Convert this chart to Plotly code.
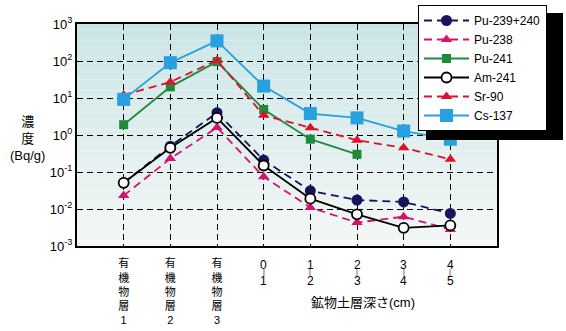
import plotly.graph_objects as go

organic_labels = ["有<br>機<br>物<br>層<br>1", "有<br>機<br>物<br>層<br>2", "有<br>機<br>物<br>層<br>3"]
depth_top = [0, 1, 2, 3, 4]
depth_bottom = [1, 2, 3, 4, 5]
x_pos = [0, 1, 2, 3, 4, 5, 6, 7]
categories = organic_labels + [""] * len(depth_top)

pu239 = [0.051, 0.50, 4.0, 0.21, 0.031, 0.0175, 0.0155, 0.0076]
pu238 = [0.023, 0.23, 1.6, 0.074, 0.011, 0.0043, 0.0062, 0.0028]
pu241 = [1.9, 20, 96, 4.9, 0.77, 0.30]
am241 = [0.051, 0.45, 2.9, 0.15, 0.019, 0.0072, 0.0031, 0.0036]
sr90 = [12, 27, 105, 3.4, 1.58, 0.72, 0.45, 0.22]
cs137 = [9.2, 90, 350, 21, 3.8, 2.9, 1.28, 0.77]

y_tickvals = [1e-3, 1e-2, 1e-1, 1, 10, 100, 1000]
y_ticktext = ["10<sup>-3</sup>", "10<sup>-2</sup>", "10<sup>-1</sup>", "10<sup>0</sup>",
              "10<sup>1</sup>", "10<sup>2</sup>", "10<sup>3</sup>"]

FONT = "Arial, 'Liberation Sans', 'Noto Sans CJK JP', sans-serif"

fig = go.Figure()

def add(name, y, color, dash, symbol, size, fill=None, lw=1.8):
    fig.add_trace(go.Scatter(
        x=x_pos[:len(y)], y=y, name=name, mode="lines+markers",
        line=dict(color=color, width=lw, dash=dash),
        marker=dict(symbol=symbol, size=size, color=fill if fill else color,
                    line=dict(color=color, width=1.8 if fill else 0)),
    ))

DASH = "8px,5px"
add("Pu-239+240", pu239, "#17135e", DASH, "circle", 11)
add("Pu-238", pu238, "#d6136c", DASH, "triangle-up", 10)
add("Pu-241", pu241, "#1e8a3a", "solid", "square", 9)
add("Am-241", am241, "#000000", "solid", "circle", 10, fill="white")
add("Sr-90", sr90, "#e0102c", DASH, "triangle-up", 10)
add("Cs-137", cs137, "#27a0e0", "solid", "square", 13)

# gradient background bands in plot area
shapes = []
n = 40
top = (203, 229, 231)
bot = (243, 247, 245)
for i in range(n):
    t = i / (n - 1)
    c = tuple(int(round(top[k] + (bot[k] - top[k]) * t)) for k in range(3))
    shapes.append(dict(type="rect", xref="paper", yref="paper",
                       x0=0, x1=1, y0=1 - (i + 1) / n, y1=1 - i / n,
                       fillcolor="rgb(%d,%d,%d)" % c, line=dict(width=0), layer="below"))

def px_x(p):
    return (p - 77) / 420.0
def px_y(p):
    return (246 - p) / 222.0

# legend shadow
shapes.append(dict(type="rect", xref="paper", yref="paper",
                   x0=px_x(426), x1=px_x(563), y0=px_y(140), y1=px_y(13),
                   fillcolor="black", line=dict(width=0), layer="above"))

annotations = [
    dict(text="濃<br>度<br>(Bq/g)", xref="paper", yref="paper",
         x=px_x(27), y=px_y(138), xanchor="center", yanchor="middle",
         showarrow=False, font=dict(size=13)),
    dict(text="鉱物土層深さ(cm)", xref="paper", yref="paper",
         x=px_x(363), y=px_y(302), xanchor="center", yanchor="middle",
         showarrow=False, font=dict(size=13)),
]
for k, (a, b) in enumerate(zip(depth_top, depth_bottom)):
    xi = x_pos[len(organic_labels) + k]
    annotations.append(dict(text=f"{a}<br>{b}", xref="x", yref="paper",
                            x=xi, y=px_y(256), xanchor="center", yanchor="top",
                            showarrow=False, font=dict(size=12)))
    annotations.append(dict(text="|", xref="x", yref="paper",
                            x=xi, y=px_y(271.5), xanchor="center", yanchor="middle",
                            showarrow=False, font=dict(size=7)))

fig.update_layout(
    width=566, height=331,
    margin=dict(l=77, r=69, t=24, b=85, autoexpand=False),
    paper_bgcolor="white", plot_bgcolor="rgba(0,0,0,0)",
    font=dict(family=FONT, size=12, color="black"),
    shapes=shapes,
    annotations=annotations,
    showlegend=True,
    legend=dict(x=px_x(418), y=px_y(5), xanchor="left", yanchor="top",
                bgcolor="white", bordercolor="black", borderwidth=1,
                font=dict(size=12, family=FONT), itemwidth=45,
                tracegroupgap=0),
    xaxis=dict(range=[-1, 8], tickvals=x_pos, ticktext=categories,
               showgrid=True, gridcolor="black", griddash="6px,4px", gridwidth=1.2,
               showline=True, linecolor="black", linewidth=2, mirror=True,
               zeroline=False, ticks="", tickfont=dict(size=11), ticklabelstandoff=6,
               automargin=False, fixedrange=True),
    yaxis=dict(type="log", range=[-3, 3], tickvals=y_tickvals, ticktext=y_ticktext,
               showgrid=True, gridcolor="black", griddash="6px,4px", gridwidth=1.2,
               showline=True, linecolor="black", linewidth=2, mirror=True,
               zeroline=False, ticks="", tickfont=dict(size=13), automargin=False,
               fixedrange=True),
)

fig.write_html("out.html")
